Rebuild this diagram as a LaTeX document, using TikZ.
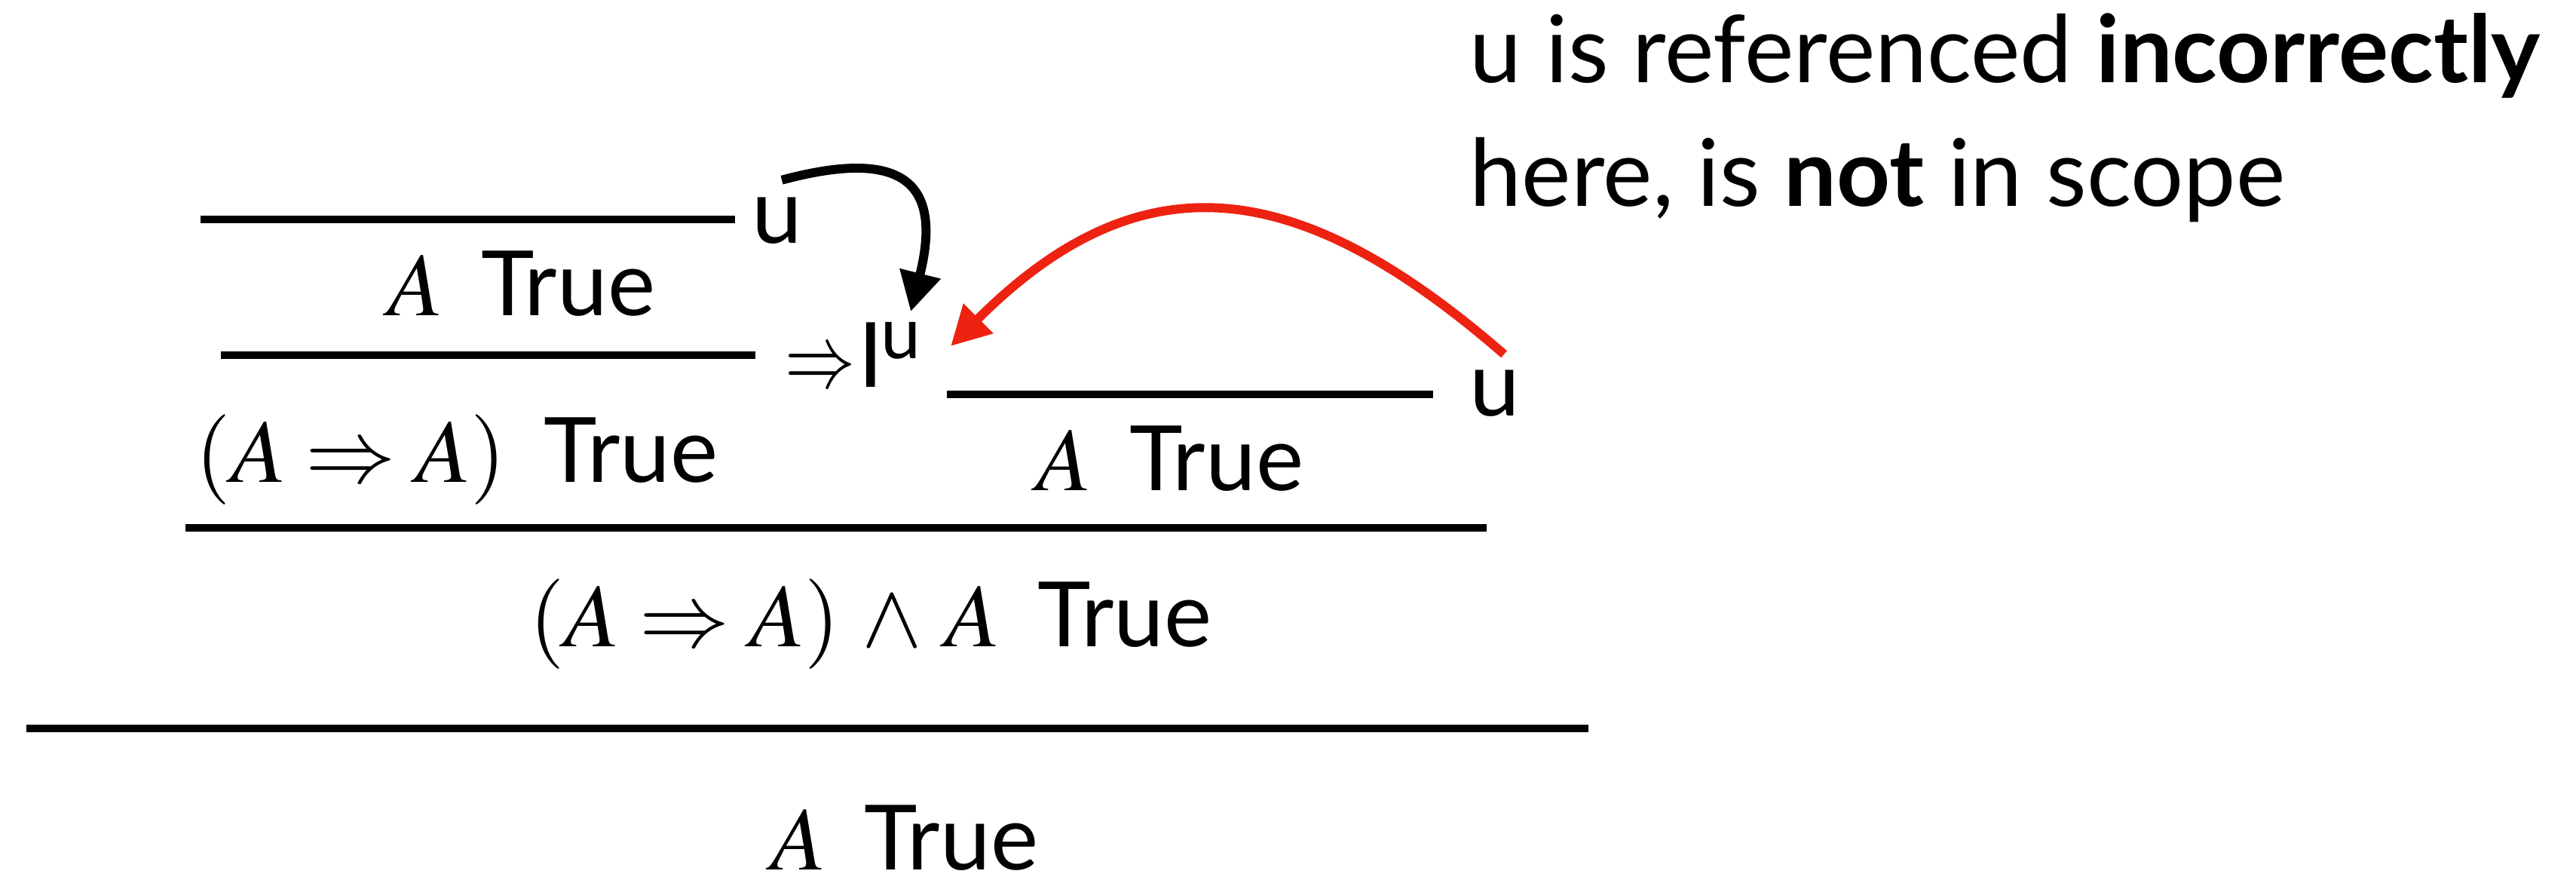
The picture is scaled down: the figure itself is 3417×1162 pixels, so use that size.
\documentclass[tikz,border=0pt]{standalone}
\usepackage{mathptmx}
\usepackage{graphicx}
\usepackage[no-math]{fontspec}
\setmainfont{Lato}
\usetikzlibrary{arrows.meta, calc}
\definecolor{scopered}{RGB}{237,34,17}
\newcommand{\istrue}[1]{$#1$\hspace{0.42em}True}
\newcommand{\hypname}[1]{\raisebox{10.8pt}{\fontsize{27}{30}\selectfont #1}}

\tikzset{
  infline/.style={line width=3pt},
  refarrow/.style={line width=3.4pt, -{Triangle[length=5.2mm, width=5.3mm]}},
  judg/.style={anchor=base, inner sep=0pt},
  lbl/.style={anchor=base west, inner sep=0pt},
  notetext/.style={lbl, font=\fontsize{35.2}{42}\selectfont}
}

\begin{document}
\begin{tikzpicture}[x=0.01cm, y=-0.01cm, font=\fontsize{34}{41}\selectfont]
  \useasboundingbox (0,0) rectangle (3417,1162);

  % left branch: assume u, discharge with =>I
  \draw[infline] (266,291) -- (975,291);
  \node[lbl] (hyp) at (997,322) {u};
  \node[judg] (a1) at (692,418) {\istrue{A}};
  \draw[infline] (293,471) -- (1002,471);
  \node[lbl] (impi) at (1041,513) {\scalebox{0.78}[1]{$\Rightarrow$}\hspace{1pt}I\hspace{-1pt}\hypname{u}};
  \node[judg] (imp) at (606,639) {\istrue{(A \Rightarrow A)}};

  % right branch: u used out of scope
  \draw[infline] (1256,523) -- (1901,523);
  \node[lbl] (hyp2) at (1949,551) {u};
  \node[judg] (a2) at (1552,650) {\istrue{A}};

  \draw[infline] (246,700) -- (1972,700);
  \node[judg] (conj) at (1155,857) {\istrue{(A \Rightarrow A) \mathbin{\,\wedge\,} A}};
  \draw[infline] (35,966) -- (2107,966);
  \node[judg] (a3) at (1200,1153) {\istrue{A}};

  \node[notetext] (note1) at (1949,109) {u is referenced \textbf{incorrectly}};
  \node[notetext] (note2) at (1949,273) {here, is \textbf{not} in scope};

  \draw[refarrow] ($(hyp.north east)+(-28,-22)$) to[out=15, in=76, looseness=1.8] ($(impi.north east)+(-14,-13)$);
  \draw[refarrow, scopered] ($(hyp2.north east)+(-22,-20)$) to[out=139, in=45, looseness=1.25] ($(impi.east)+(39,-11)$);
\end{tikzpicture}
\end{document}
